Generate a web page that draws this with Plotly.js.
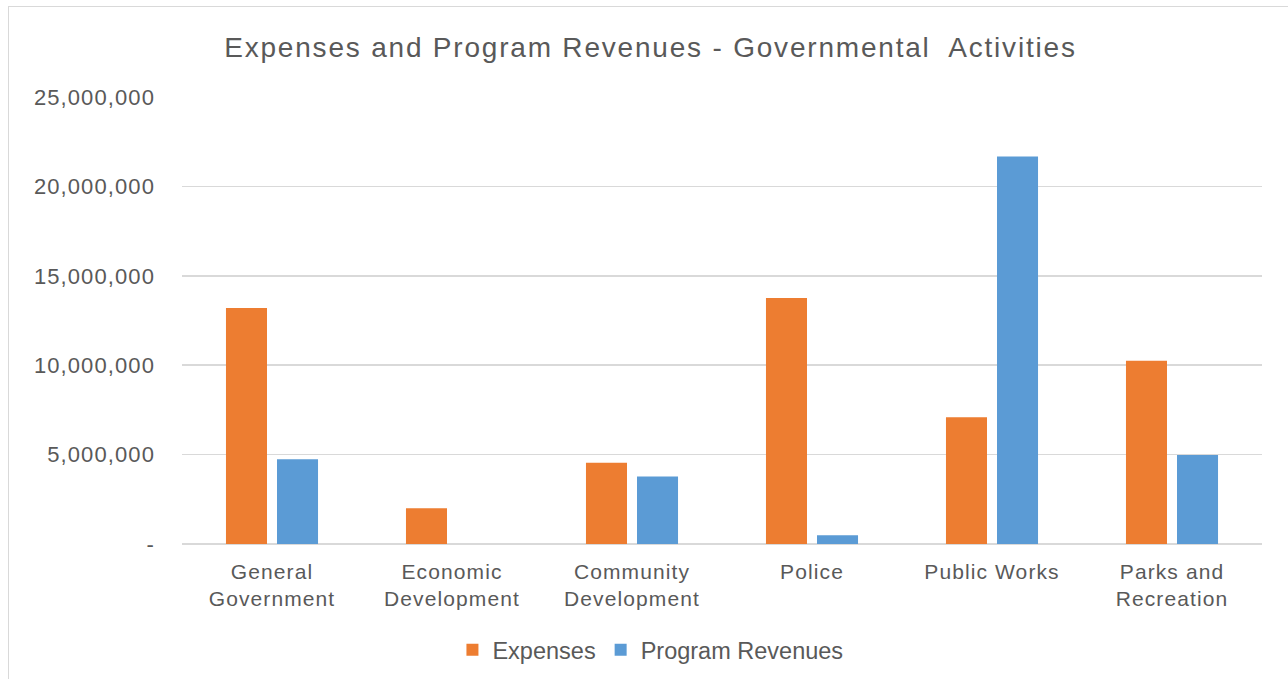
<!DOCTYPE html>
<html>
<head>
<meta charset="utf-8">
<script src="https://cdn.plot.ly/plotly-3.0.1.min.js"></script>
<style>
  html, body { margin: 0; padding: 0; background: #ffffff; overflow: hidden; }
  #chart { width: 1288px; height: 679px; position: absolute; left: 0; top: 0; }
  #frame { position: absolute; left: 8px; top: 6px; width: 1300px; height: 700px;
           border: 1.5px solid #d9d9d9; pointer-events: none; box-sizing: border-box; }
  #chart .ytick text, #chart .xtick text { letter-spacing: 1.1px; }
  #chart .gtitle { letter-spacing: 1.8px; }
</style>
</head>
<body>
<div id="chart"></div>
<div id="frame"></div>
<script>
const categories = ["General<br>Government", "Economic<br>Development", "Community<br>Development", "Police", "Public Works", "Parks and<br>Recreation"];
const expenses = [13200000, 2000000, 4540000, 13760000, 7090000, 10250000];
const programRevenues = [4740000, 0, 3770000, 490000, 21670000, 4980000];
const tickValues = [0, 5000000, 10000000, 15000000, 20000000, 25000000];
const tickLabels = ["-", "5,000,000", "10,000,000", "15,000,000", "20,000,000", "25,000,000"];

const textColor = "#595959";
const fontFamily = "Liberation Sans, Arial, sans-serif";

const traces = [
  { type: "bar", name: "Expenses", x: categories, y: expenses,
    marker: { color: "#ED7D31" }, hoverinfo: "none" },
  { type: "bar", name: "Program Revenues", x: categories, y: programRevenues,
    marker: { color: "#5B9BD5" }, hoverinfo: "none" }
];

const layout = {
  width: 1288, height: 679,
  margin: { l: 182, r: 26, t: 97, b: 135 },
  paper_bgcolor: "rgba(0,0,0,0)",
  plot_bgcolor: "rgba(0,0,0,0)",
  font: { family: fontFamily, color: textColor, size: 22 },
  title: { text: "Expenses and Program Revenues - Governmental  Activities",
           font: { size: 28, color: textColor, family: fontFamily },
           xref: "container", x: 0.505, xanchor: "center",
           yref: "container", y: 1 - 47/679, yanchor: "middle" },
  barmode: "group",
  bargap: 0.433,
  bargroupgap: 0.196,
  xaxis: { tickfont: { size: 21, color: textColor }, showgrid: false, showline: false,
           ticks: "", ticklabelstandoff: 13, fixedrange: true },
  yaxis: { range: [0, 25000000], tickvals: tickValues, ticktext: tickLabels,
           tickfont: { size: 22, color: textColor },
           showgrid: true, gridcolor: "#D9D9D9", gridwidth: 1.5,
           zeroline: true, zerolinecolor: "#D9D9D9", zerolinewidth: 1.5,
           showline: false, ticks: "", ticklabelstandoff: 26, fixedrange: true },
  showlegend: true,
  legend: { orientation: "h", xref: "container", yref: "container",
            x: 0.505, xanchor: "center", y: 1 - 650/679, yanchor: "middle",
            font: { size: 23.5, color: textColor }, itemclick: false, itemdoubleclick: false }
};

Plotly.newPlot("chart", traces, layout, { displayModeBar: false, staticPlot: true });
</script>
</body>
</html>
